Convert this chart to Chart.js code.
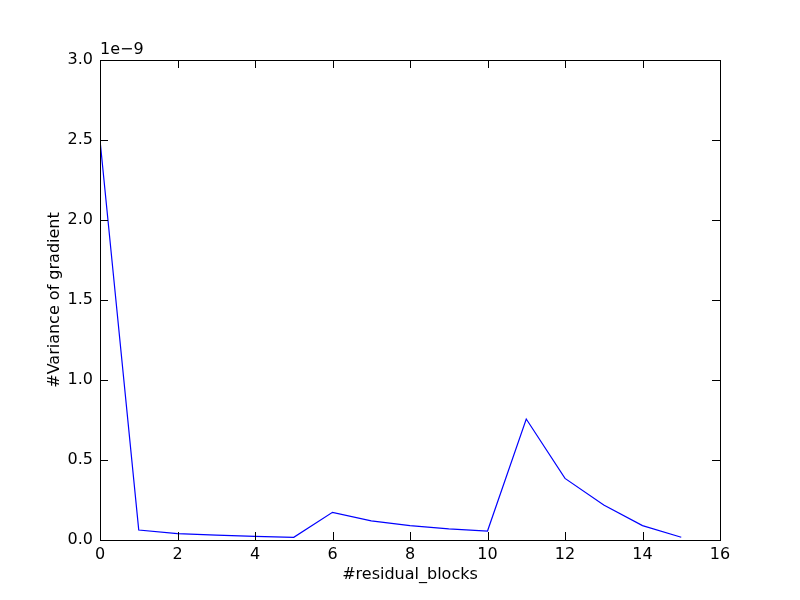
<!DOCTYPE html>
<html>
<head>
<meta charset="utf-8">
<script src="https://cdn.jsdelivr.net/npm/chart.js@4.4.0/dist/chart.umd.min.js"></script>
<style>
  body { margin: 0; background: #fff; }
  canvas { display: block; }
</style>
</head>
<body>
<canvas id="chart" width="800" height="600"></canvas>
<script>
const blocks = [0, 1, 2, 3, 4, 5, 6, 7, 8, 9, 10, 11, 12, 13, 14, 15];
const variance = [2.5, 0.0625, 0.04, 0.03, 0.023, 0.017, 0.173, 0.119, 0.09, 0.07, 0.056, 0.756, 0.385, 0.219, 0.09, 0.017];
const offsetText = "1e\u22129";

const font = { family: "'DejaVu Sans'", size: 16 };

// matplotlib classic look: ticks pointing inward on all four sides
const insideTicks = {
  id: "insideTicks",
  afterDraw(chart) {
    const { ctx, chartArea: a, scales } = chart;
    ctx.save();
    ctx.strokeStyle = "#000";
    ctx.lineWidth = 1;
    ctx.beginPath();
    scales.x.ticks.forEach(t => {
      const px = Math.round(scales.x.getPixelForValue(t.value)) + 0.5;
      ctx.moveTo(px, a.bottom); ctx.lineTo(px, a.bottom - 8);
      ctx.moveTo(px, a.top); ctx.lineTo(px, a.top + 8);
    });
    scales.y.ticks.forEach(t => {
      const py = Math.round(scales.y.getPixelForValue(t.value)) + 0.5;
      ctx.moveTo(a.left, py); ctx.lineTo(a.left + 8, py);
      ctx.moveTo(a.right, py); ctx.lineTo(a.right - 8, py);
    });
    ctx.stroke();
    ctx.strokeRect(a.left + 0.5, a.top + 0.5, a.right - a.left, a.bottom - a.top);
    ctx.fillStyle = "#000";
    ctx.font = "16px 'DejaVu Sans'";
    ctx.textAlign = "left";
    ctx.textBaseline = "bottom";
    ctx.fillText(offsetText, a.left, a.top - 2);
    ctx.restore();
  }
};

new Chart(document.getElementById("chart"), {
  type: "line",
  data: {
    labels: blocks,
    datasets: [{
      data: blocks.map((b, i) => ({ x: b, y: variance[i] })),
      borderColor: "#0000ff",
      borderWidth: 1.2,
      pointRadius: 0,
      tension: 0,
      fill: false
    }]
  },
  options: {
    responsive: false,
    animation: false,
    layout: { padding: { top: 60, right: 80, left: 0, bottom: 0 } },
    plugins: { legend: { display: false }, tooltip: { enabled: false } },
    scales: {
      x: {
        type: "linear",
        min: 0, max: 16,
        grid: { display: false, drawTicks: false },
        border: { display: false },
        ticks: { stepSize: 2, color: "#000", font, padding: 5, maxRotation: 0 },
        title: { display: true, text: "#residual_blocks", color: "#000", font, padding: { top: 0, bottom: 16 } },
        afterFit(s) { s.height = 60; }
      },
      y: {
        min: 0, max: 3,
        grid: { display: false, drawTicks: false },
        border: { display: false },
        ticks: { stepSize: 0.5, color: "#000", font, padding: 7, callback: v => v.toFixed(1) },
        title: { display: true, text: "#Variance of gradient", color: "#000", font, padding: { top: 45, bottom: 0 } },
        afterFit(s) { s.width = 100; }
      }
    }
  },
  plugins: [insideTicks]
});
</script>
</body>
</html>
